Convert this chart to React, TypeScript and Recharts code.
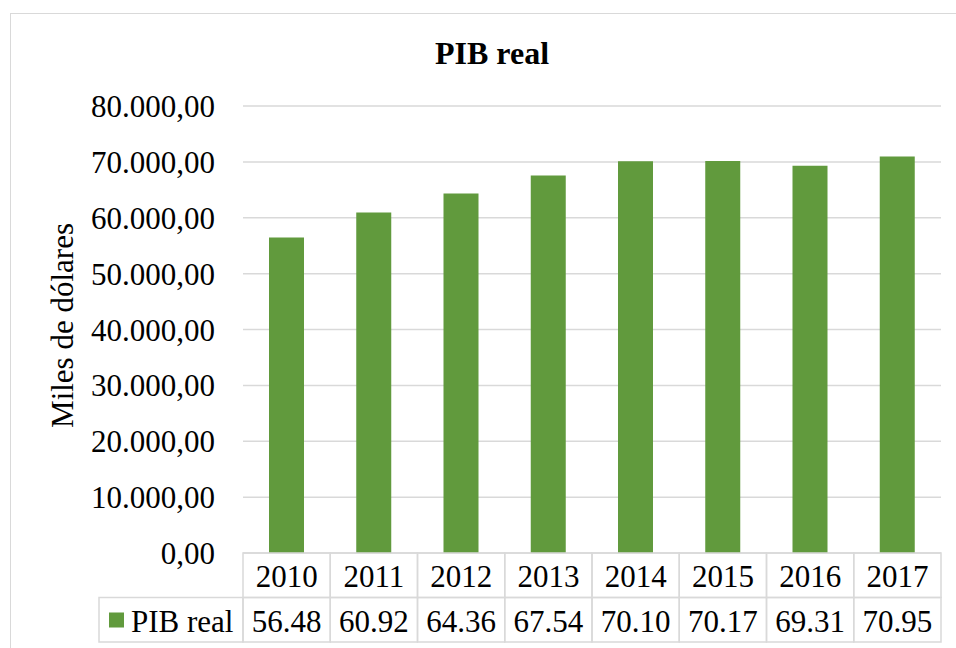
import React from 'react';
import { BarChart, Bar, XAxis, YAxis, CartesianGrid, Customized } from 'recharts';

const years = ['2010', '2011', '2012', '2013', '2014', '2015', '2016', '2017'];
const pibReal = [56480, 60920, 64360, 67540, 70100, 70170, 69310, 70950];
const yTicks = [0, 10000, 20000, 30000, 40000, 50000, 60000, 70000, 80000];
const seriesName = 'PIB real';
const title = 'PIB real';
const yLabel = 'Miles de dólares';

const data = years.map((y, i) => ({ year: y, value: pibReal[i] }));

const W = 956;
const H = 648;
const M = { top: 106, right: 15, bottom: 0, left: 0 };
const Y_AXIS_W = 243;
const X_AXIS_H = 95;
const PLOT_W = W - M.left - Y_AXIS_W - M.right;
const CELL_W = PLOT_W / years.length;
const TABLE_TOP = H - M.bottom - X_AXIS_H;
const ROW_H = 44.5;
const FONT = '"Liberation Serif", "Times New Roman", serif';
const FS = 31;
const GRID = '#d9d9d9';
const GREEN = '#619A3D';

const fmtES = (n: number) => {
  const [int, dec] = n.toFixed(2).split('.');
  return int.replace(/\B(?=(\d{3})+(?!\d))/g, '.') + ',' + dec;
};

const TableTick = (props: any) => {
  const { x, payload } = props;
  const idx = years.indexOf(String(payload.value));
  const left = x - CELL_W / 2;
  const top = TABLE_TOP;
  return (
    <g>
      <rect x={left} y={top} width={CELL_W} height={ROW_H} fill="none" stroke={GRID} strokeWidth={1.5} />
      <rect x={left} y={top + ROW_H} width={CELL_W} height={ROW_H} fill="none" stroke={GRID} strokeWidth={1.5} />
      <text x={x} y={top + 34} textAnchor="middle" fontFamily={FONT} fontSize={FS} fill="#000">
        {payload.value}
      </text>
      <text x={x} y={top + ROW_H + 34.5} textAnchor="middle" fontFamily={FONT} fontSize={FS} fill="#000">
        {idx >= 0 ? (pibReal[idx] / 1000).toFixed(2) : ''}
      </text>
    </g>
  );
};

const Extras = () => {
  const plotLeft = M.left + Y_AXIS_W;
  const legendLeft = 99;
  const rowTop = TABLE_TOP + ROW_H;
  const plotMidY = (M.top + TABLE_TOP) / 2;
  return (
    <g>
      <text x={492} y={64} textAnchor="middle" fontFamily={FONT} fontSize={32} fontWeight="bold" fill="#000">
        {title}
      </text>
      <text
        x={73}
        y={plotMidY - 4}
        textAnchor="middle"
        fontFamily={FONT}
        fontSize={FS}
        fill="#000"
        transform={`rotate(-90, 73, ${plotMidY - 4})`}
      >
        {yLabel}
      </text>
      <rect x={legendLeft} y={rowTop} width={plotLeft - legendLeft} height={ROW_H} fill="none" stroke={GRID} strokeWidth={1.5} />
      <rect x={109} y={rowTop + 15} width={15} height={15} fill={GREEN} />
      <text x={131} y={rowTop + 34.5} fontFamily={FONT} fontSize={FS} fill="#000">
        {seriesName}
      </text>
    </g>
  );
};

export default function App() {
  return (
    <div style={{ position: 'absolute', left: 0, top: 0, width: W, height: H, overflow: 'hidden', background: '#fff' }}>
      <div
        style={{
          position: 'absolute',
          left: 10,
          top: 13,
          width: 1000,
          height: 700,
          border: `1.5px solid ${GRID}`,
          boxSizing: 'border-box',
        }}
      />
      <div style={{ position: 'absolute', left: 0, top: 0 }}>
        <BarChart width={W} height={H} data={data} margin={M}>
          <CartesianGrid vertical={false} stroke={GRID} strokeWidth={1.5} />
          <XAxis
            dataKey="year"
            height={X_AXIS_H}
            axisLine={false}
            tickLine={false}
            tickSize={0}
            tickMargin={0}
            interval={0}
            tick={<TableTick />}
          />
          <YAxis
            width={Y_AXIS_W}
            domain={[0, 80000]}
            ticks={yTicks}
            axisLine={false}
            tickLine={false}
            tickSize={0}
            tickMargin={28}
            tickFormatter={fmtES}
            tick={{ fontFamily: FONT, fontSize: FS, fill: '#000' }}
          />
          <Bar dataKey="value" fill={GREEN} barSize={35} isAnimationActive={false} />
          <Customized component={<Extras />} />
        </BarChart>
      </div>
    </div>
  );
}
